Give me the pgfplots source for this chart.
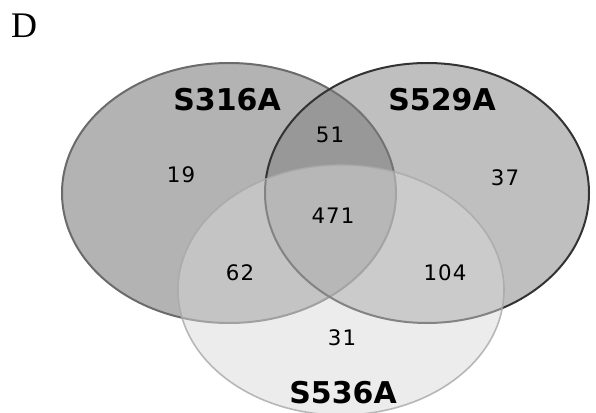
\documentclass[border=0pt]{standalone}
\usepackage{fontspec}
\setmainfont{Liberation Serif}
\newfontfamily\dv{DejaVu Sans}
\usepackage{pgfplots}
\pgfplotsset{compat=1.18}
\usepackage{pgfplotstable}

\definecolor{fillA}{gray}{0.702}
\definecolor{fillB}{gray}{0.485}
\definecolor{fillC}{gray}{0.847}
\definecolor{edgeA}{gray}{0.42}
\definecolor{edgeB}{gray}{0.20}
\definecolor{edgeC}{gray}{0.66}

% region counts, placed in picture pixels (y runs down)
\pgfplotstableread{
x   y   n
181 175 19
330 135 51
505 178 37
333 216 471
240 273 62
445 273 104
342 338 31
}\counts

\pgfplotstableread{
x   y   name
227 100 S316A
442 100 S529A
343 393 S536A
}\sets

\begin{document}
\begin{tikzpicture}
\begin{axis}[
    scale only axis,
    width=447pt, height=309.75pt,
    xmin=0, xmax=596, ymin=0, ymax=413,
    y dir=reverse,
    hide axis,
]
% keep the whole frame in the bounding box
\path (rel axis cs:0,0) rectangle (rel axis cs:1,1);
% the three sets
\fill[fillA] (axis cs:229,193) ellipse [x radius=167, y radius=130];
\draw[edgeA, line width=1.5pt] (axis cs:229,193) ellipse [x radius=167, y radius=130];
\fill[fillB, fill opacity=0.487] (axis cs:427,193) ellipse [x radius=162, y radius=130];
\draw[edgeB, line width=1.5pt] (axis cs:427,193) ellipse [x radius=162, y radius=130];
\fill[fillC, fill opacity=0.487] (axis cs:341,290) ellipse [x radius=163, y radius=125];
\draw[edgeC, line width=1.2pt, draw opacity=0.8] (axis cs:341,290) ellipse [x radius=163, y radius=125];

\addplot[only marks, mark=none, nodes near coords, point meta=explicit symbolic,
    every node near coord/.append style={anchor=center, font=\dv\fontsize{16pt}{18pt}\selectfont\addfontfeature{LetterSpace=5}}]
    table[x=x, y=y, meta=n] {\counts};

\addplot[only marks, mark=none, nodes near coords, point meta=explicit symbolic,
    every node near coord/.append style={anchor=center, font=\dv\bfseries\fontsize{22.5pt}{26pt}\selectfont}]
    table[x=x, y=y, meta=name] {\sets};

\node[font=\fontsize{27pt}{30pt}\selectfont] at (axis cs:24,26) {D};
\end{axis}
\end{tikzpicture}
\end{document}
